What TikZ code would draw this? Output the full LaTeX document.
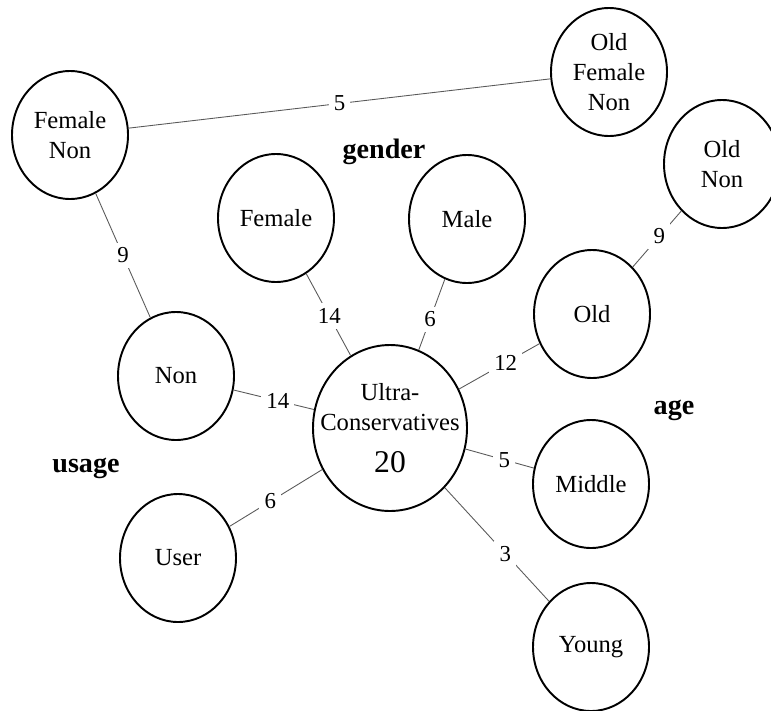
\documentclass[tikz,border=0pt]{standalone}
\usepackage{fontspec}
\setmainfont{Liberation Serif}
\usepackage{tikz}
\usetikzlibrary{shapes.geometric}
\tikzset{
  cell/.style={ellipse, draw, line width=1.1pt, minimum width=2.32cm, minimum height=2.56cm, inner sep=0pt, align=center, font=\fontsize{14}{17}\selectfont},
  hub/.style={cell, minimum width=3.08cm, minimum height=3.32cm, inner xsep=-0.36cm},
  grp/.style={font=\bfseries\fontsize{16}{18}\selectfont},
  lnk/.style={draw=black!65, line width=0.5pt},
  cnt/.style={fill=white, inner sep=3pt, font=\fontsize{13}{15}\selectfont}
}
\begin{document}
\begin{tikzpicture}
\clip (0,0) rectangle (15.42,-14.2);
% cells of the lattice
\node[cell] (fnon)  at (1.40,-2.70)  {Female\\Non};
\node[cell] (ofnon) at (12.18,-1.44) {Old\\Female\\Non};
\node[cell] (onon)  at (14.44,-3.28) {Old\\Non};
\node[cell] (fem)   at (5.52,-4.36)  {Female};
\node[cell] (male)  at (9.34,-4.38)  {Male};
\node[cell] (old)   at (11.84,-6.28) {Old};
\node[cell] (non)   at (3.52,-7.52)  {Non};
\node[hub]  (ultra) at (7.80,-8.56)  {Ultra-\\Conservatives\\[7pt]{\fontsize{18}{20}\selectfont 20}};
\node[cell] (mid)   at (11.82,-9.68) {Middle};
\node[cell] (user)  at (3.56,-11.16) {User};
\node[cell] (young) at (11.82,-12.94) {Young};
% attribute groups
\node[grp] (gender) at (7.68,-3.04) {gender};
\node[grp] (age)    at (13.48,-8.20) {age};
\node[grp] (usage)  at (1.72,-9.36) {usage};
% links with counts
\draw[lnk] (fnon) -- node[cnt, pos=0.5] {5} (ofnon);
\draw[lnk] (fnon) -- node[cnt, pos=0.5] {9} (non);
\draw[lnk] (onon) -- node[cnt, pos=0.45] {9} (old);
\draw[lnk] (fem) -- node[cnt, pos=0.52] {14} (ultra);
\draw[lnk] (male) -- node[cnt, pos=0.57] {6} (ultra);
\draw[lnk] (old) -- node[cnt, pos=0.42] {12} (ultra);
\draw[lnk] (non) -- node[cnt, pos=0.55] {14} (ultra);
\draw[lnk] (ultra) -- node[cnt, pos=0.57] {5} (mid);
\draw[lnk] (user) -- node[cnt, pos=0.44] {6} (ultra);
\draw[lnk] (ultra) -- node[cnt, pos=0.58] {3} (young);
\end{tikzpicture}
\end{document}
